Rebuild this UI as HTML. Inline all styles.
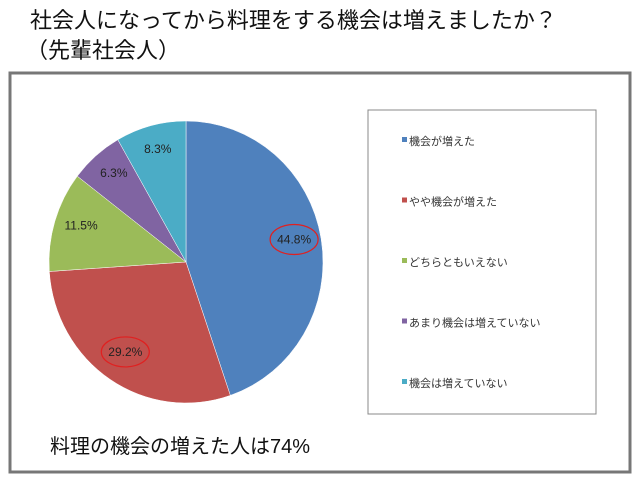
<!DOCTYPE html>
<html><head><meta charset="utf-8"><style>
body{margin:0;background:#fff;width:640px;height:481px;overflow:hidden;font-family:"Liberation Sans","Noto Sans CJK JP",sans-serif;}
</style></head><body>
<svg width="640" height="481" xmlns="http://www.w3.org/2000/svg">
<text x="30" y="28" font-size="22" fill="#111" font-family="Liberation Sans, Noto Sans CJK JP, sans-serif">社会人になってから料理をする機会は増えましたか？</text>
<text x="26" y="58" font-size="22" fill="#111" font-family="Liberation Sans, Noto Sans CJK JP, sans-serif">（先輩社会人）</text>
<rect x="10" y="73" width="620" height="399" fill="#fff" stroke="#777" stroke-width="3"/>
<rect x="368" y="110" width="228" height="304" fill="#fff" stroke="#888" stroke-width="1"/>
<g id="pie"></g>
<g id="legend"></g>
<text x="50" y="453" font-size="20" fill="#111" font-family="Liberation Sans, Noto Sans CJK JP, sans-serif">料理の機会の増えた人は74%</text>
</svg>
<script>
const categories=["機会が増えた","やや機会が増えた","どちらともいえない","あまり機会は増えていない","機会は増えていない"];
const values=[44.8,29.2,11.5,6.3,8.3];
const labels=["44.8%","29.2%","11.5%","6.3%","8.3%"];
const colors=["#4F81BD","#C0504D","#9BBB59","#8064A2","#4BACC6"];
const highlighted=[true,true,false,false,false];
const NS="http://www.w3.org/2000/svg";
const cx=186,cy=262,rx=137,ry=141;
const total=values.reduce((a,b)=>a+b,0);
function pt(frac,f){const a=frac*2*Math.PI;return [cx+Math.sin(a)*rx*f,cy-Math.cos(a)*ry*f];}
const pie=document.getElementById('pie');
let acc=0;
values.forEach((v,i)=>{
  const s=acc/total,e=(acc+v)/total;acc+=v;
  const [x1,y1]=pt(s,1),[x2,y2]=pt(e,1);
  const p=document.createElementNS(NS,'path');
  p.setAttribute('d',`M${cx},${cy}L${x1},${y1}A${rx},${ry} 0 ${e-s>0.5?1:0} 1 ${x2},${y2}Z`);
  p.setAttribute('fill',colors[i]);p.setAttribute('stroke','#fff');p.setAttribute('stroke-width','0.5');
  
  
  pie.appendChild(p);
  const [lx,ly]=pt((s+e)/2,0.8);
  if(highlighted[i]){
    const el=document.createElementNS(NS,'ellipse');
    el.setAttribute('cx',lx);el.setAttribute('cy',ly-4);el.setAttribute('rx',24);el.setAttribute('ry',15);
    el.setAttribute('fill','none');el.setAttribute('stroke','#e02020');el.setAttribute('stroke-width','1.2');
    
    
    pie.appendChild(el);
  }
  const t=document.createElementNS(NS,'text');
  t.setAttribute('x',lx);t.setAttribute('y',ly);t.setAttribute('text-anchor','middle');
  t.setAttribute('font-size','12');t.setAttribute('fill','#222');
  t.textContent=labels[i];
  
  
  pie.appendChild(t);
});
const leg=document.getElementById('legend');
categories.forEach((c,i)=>{
  const y=141+i*60.5;
  const r=document.createElementNS(NS,'rect');
  r.setAttribute('x',402);r.setAttribute('y',y-4);r.setAttribute('width',5);r.setAttribute('height',5);r.setAttribute('fill',colors[i]);
  
  
  leg.appendChild(r);
  const t=document.createElementNS(NS,'text');
  t.setAttribute('x',409);t.setAttribute('y',y+4);t.setAttribute('font-size','11');t.setAttribute('fill','#333');
  t.setAttribute('font-family','Liberation Sans, Noto Sans CJK JP, sans-serif');
  t.textContent=c;
  
  
  leg.appendChild(t);
});
</script>
</body></html>
